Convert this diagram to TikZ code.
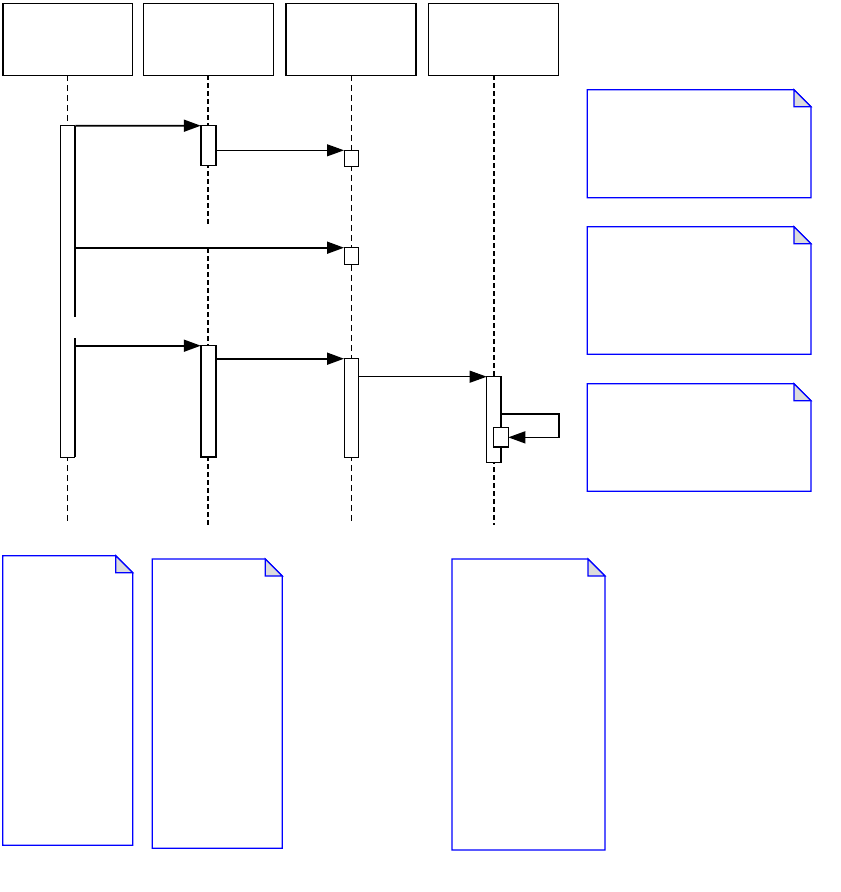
\documentclass[tikz,border=0pt]{standalone}
\usetikzlibrary{arrows.meta}
\definecolor{noteblue}{HTML}{0000FF}
\definecolor{foldgray}{HTML}{DCDCDC}
\tikzset{
  hdr/.style={draw=black, line width=1.3pt, fill=white, inner sep=0pt, outer sep=0pt},
  actbox/.style={draw=black, line width=1pt, fill=white, inner sep=0pt, outer sep=0pt},
  actthick/.style={draw=black, line width=1.5pt, fill=white, inner sep=0pt, outer sep=0pt},
  lifethin/.style={draw=black, line width=0.9pt, dash pattern=on 6pt off 4pt},
  lifethick/.style={draw=black, line width=2pt, dash pattern=on 5pt off 3pt},
  msgthick/.style={draw=black, line width=1.7pt, -{Triangle[length=17pt,width=12pt]}},
  msgthin/.style={draw=black, line width=1pt, -{Triangle[length=17pt,width=12pt]}},
  notebox/.style={inner sep=0pt, outer sep=0pt, draw=none},
  noteline/.style={draw=noteblue, line width=1.2pt, fill=white},
  notefold/.style={draw=noteblue, line width=1.2pt, fill=foldgray},
}
\newcommand\drawnote[1]{%
  \draw[noteline] (#1.north west) -- ([xshift=-17pt]#1.north east) -- ([yshift=-17pt]#1.north east) -- (#1.south east) -- (#1.south west) -- cycle;
  \filldraw[notefold] ([xshift=-17pt]#1.north east) -- ([xshift=-17pt,yshift=-17pt]#1.north east) -- ([yshift=-17pt]#1.north east) -- cycle;}
\begin{document}
\begin{tikzpicture}[x=1pt,y=-1pt]
\useasboundingbox (0,0) rectangle (841,892);

% headers
\node[hdr, minimum width=129.7pt, minimum height=72pt] (h1) at (67.8,39.3) {};
\node[hdr, minimum width=130pt, minimum height=72pt] (h2) at (208.3,39.3) {};
\node[hdr, minimum width=130pt, minimum height=72pt] (h3) at (351,39.3) {};
\node[hdr, minimum width=130pt, minimum height=72pt] (h4) at (493.6,39.3) {};

% lifeline ends
\coordinate (e1) at (67.8,525);
\coordinate (e2) at (208.3,525);
\coordinate (e3) at (351,525);
\coordinate (e4) at (493.6,525);
\coordinate (g2a) at (208.3,227);
\coordinate (g2b) at (208.3,248);

\draw[lifethin] (h1.south) -- (e1);
\draw[lifethick] (h2.south) -- (g2a);
\draw[lifethick] (g2b) -- (e2);
\draw[lifethin] (h3.south) -- (e3);
\draw[lifethick] (h4.south) -- (e4);

% activations
\node[inner sep=0pt, outer sep=0pt, fill=white, minimum width=15pt, minimum height=331.3pt] (a1) at (67.8,291.35) {};
\draw[line width=1pt] (a1.north east) -- (a1.north west) -- (a1.south west) -- (a1.south east);
\draw[line width=1.8pt] (a1.north east) -- (a1.east |- 0,316.7);
\draw[line width=1.8pt] (a1.east |- 0,338.3) -- (a1.south east);
\node[actthick, minimum width=15pt, minimum height=40pt] (a2) at (208.3,145.7) {};
\node[actbox, minimum width=14pt, minimum height=15.7pt] (a3s) at (351,158.15) {};
\node[actbox, minimum width=14pt, minimum height=16.3pt] (a3t) at (351,255.85) {};
\node[actthick, minimum width=15pt, minimum height=111.3pt] (a2b) at (208.3,401.35) {};
\node[actbox, minimum width=14pt, minimum height=98.3pt] (a3c) at (351,407.85) {};
\node[actthick, minimum width=14.3pt, minimum height=85.6pt] (a4) at (493.85,419.5) {};
\node[actthick, minimum width=14.6pt, minimum height=19.3pt] (a4n) at (501,437.35) {};

% messages
\draw[msgthick] (a1.north east) -- (a2.north west);
\draw[msgthin] (a2.east |- a3s.north) -- (a3s.north west);
\draw[msgthick] (a1.east |- a3t.north) -- (a3t.north west);
\draw[msgthick] (a1.east |- a2b.north) -- (a2b.north west);
\draw[msgthick] (a2b.east |- a3c.north) -- (a3c.north west);
\draw[msgthin] (a3c.east |- a4.north) -- (a4.north west);
\coordinate (sl) at (559,414);
\draw[msgthick, line width=1.5pt] (a4.east |- sl) -- (sl) |- (a4n.east);

% notes
\node[notebox, minimum width=223.7pt, minimum height=108pt] (n1) at (699.15,143.7) {};
\node[notebox, minimum width=223.7pt, minimum height=127.6pt] (n2) at (699.15,290.5) {};
\node[notebox, minimum width=223.7pt, minimum height=107.6pt] (n3) at (699.15,437.5) {};
\node[notebox, minimum width=130pt, minimum height=289.6pt] (n4) at (67.7,700.5) {};
\node[notebox, minimum width=130pt, minimum height=289.3pt] (n5) at (217.3,703.65) {};
\node[notebox, minimum width=153pt, minimum height=291pt] (n6) at (528.5,704.5) {};
\drawnote{n1}
\drawnote{n2}
\drawnote{n3}
\drawnote{n4}
\drawnote{n5}
\drawnote{n6}
\end{tikzpicture}
\end{document}
